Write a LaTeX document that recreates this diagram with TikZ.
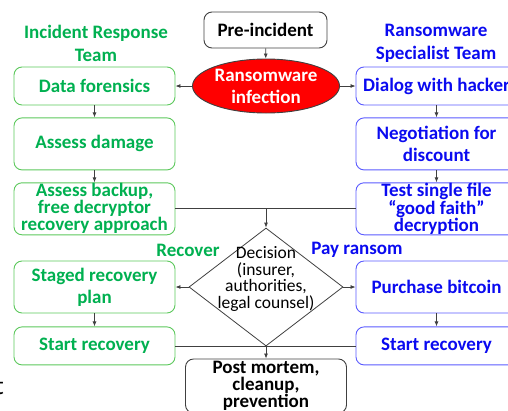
\documentclass[tikz,border=0pt]{standalone}
\usepackage{fontspec}
\setmainfont{Carlito}
\usepackage{xcolor}
\definecolor{IRGreen}{HTML}{00B050}
\definecolor{IRBorder}{HTML}{5CC85C}
\definecolor{RSBlue}{HTML}{0A0AF0}
\definecolor{RSBorder}{HTML}{5A5AFF}
\definecolor{EdgeGray}{HTML}{404040}
\usepackage{tikz}
\usetikzlibrary{arrows.meta,positioning,shapes.geometric,calc}

\begin{document}
\begin{tikzpicture}[x=1pt,y=-1pt,node distance=12pt and 20pt,>={Latex[length=5pt,width=4pt]},
stage/.style={draw,line width=0.9pt,rounded corners=8pt,minimum width=161pt,minimum height=38pt,inner sep=0pt,align=center,font=\fontsize{19}{22}\selectfont\bfseries},
irbox/.style={stage,draw=IRBorder,text=IRGreen},
rsbox/.style={stage,draw=RSBorder,text=RSBlue},
neutral/.style={stage,draw=EdgeGray,text=black},
team/.style={align=center,font=\fontsize{19}{23}\selectfont\bfseries},
branch/.style={font=\fontsize{19}{22}\selectfont\bfseries,inner sep=0pt},
link/.style={draw=EdgeGray,line width=0.8pt}]
\useasboundingbox (0,0) rectangle (508,410);
\clip (0,0) rectangle (508,410);
\node[neutral,minimum width=123pt,minimum height=36pt] (pre) at (265.5,30) {Pre-incident};
\node[ellipse,draw=black!75,line width=0.9pt,fill=red,text=white,minimum width=147pt,minimum height=54pt,inner xsep=0pt,inner ysep=-5pt,align=center,font=\fontsize{19}{22}\selectfont\bfseries] (infection) at (266,86) {Ransomware\\infection};
\node[team,text=IRGreen] (irteam) at (96,43) {Incident Response\\Team};
\node[team,text=RSBlue] (rsteam) at (436,43) {Ransomware\\Specialist Team};
\node[irbox] (forensics) at (94.5,86) {Data forensics};
\node[irbox,minimum height=52pt,below=of forensics] (damage) {Assess damage};
\node[irbox,minimum height=52pt,below=of damage,font=\fontsize{19}{17}\selectfont\bfseries] (backup) {Assess backup,\\free decryptor\\recovery approach};
\node[rsbox] (dialog) at (436.5,86) {Dialog with hacker};
\node[rsbox,minimum height=52pt,below=of dialog] (negotiation) {Negotiation for\\discount};
\node[rsbox,minimum height=52pt,below=of negotiation,font=\fontsize{19}{17}\selectfont\bfseries] (testfile) {Test single file\\“good faith”\\decryption};
\node[diamond,draw=EdgeGray,line width=0.8pt,minimum width=154pt,minimum height=118pt,inner sep=0pt] (decision) at (266,287) {};
\node[align=center,inner sep=0pt,font=\fontsize{17.5}{16.5}\selectfont] (decisiontext) at (266,279) {Decision\\(insurer,\\authorities,\\legal counsel)};
\node[branch,text=IRGreen] (recover) at (188,250) {Recover};
\node[branch,text=RSBlue] (payransom) at (357,250) {Pay ransom};
\node[irbox,minimum height=52pt] (staged) at (94.5,287) {Staged recovery\\plan};
\node[irbox,below=13pt of staged] (startir) {Start recovery};
\node[rsbox,minimum height=52pt] (bitcoin) at (436.5,287) {Purchase bitcoin};
\node[rsbox,below=13pt of bitcoin] (startrs) {Start recovery};
\node[neutral,minimum height=54pt,font=\fontsize{19}{15}\selectfont\bfseries] (postmortem) at (266,386) {Post mortem,\\cleanup,\\prevention};
\node[font=\fontsize{26}{26}\selectfont,anchor=east,inner sep=0pt] (stray) at (4,386) {t};
\draw[link,->] (pre) -- (infection);
\draw[link,->] (infection) -- (forensics);
\draw[link,->] (infection) -- (dialog);
\draw[link,->] (forensics) -- (damage);
\draw[link,->] (damage) -- (backup);
\draw[link,->] (dialog) -- (negotiation);
\draw[link,->] (negotiation) -- (testfile);
\draw[link] (backup) -- (testfile);
\draw[link,->] (backup -| decision) -- (decision);
\draw[link,->] (decision) -- (staged);
\draw[link,->] (decision) -- (bitcoin);
\draw[link,->] (staged) -- (startir);
\draw[link,->] (bitcoin) -- (startrs);
\draw[link] (startir) -- (startrs);
\draw[link,->] (startir -| postmortem) -- (postmortem);
\end{tikzpicture}
\end{document}
